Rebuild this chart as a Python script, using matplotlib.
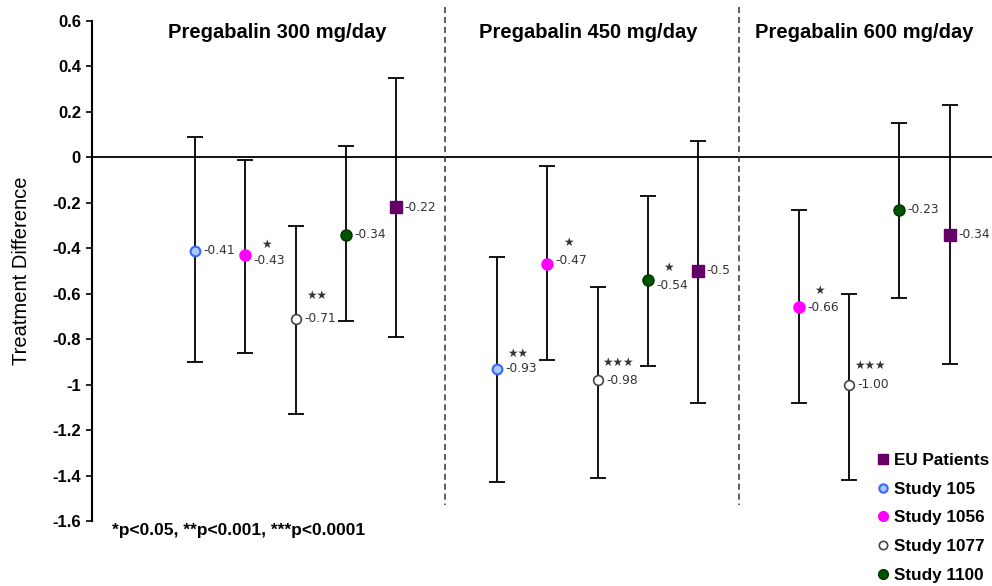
import matplotlib
matplotlib.use("Agg")
import matplotlib.pyplot as plt
from matplotlib.lines import Line2D

plt.rcParams['font.family'] = ['Liberation Sans', 'DejaVu Sans']

# ---- data ----
doses = ["Pregabalin 300 mg/day", "Pregabalin 450 mg/day", "Pregabalin 600 mg/day"]
series = ["EU Patients", "Study 105", "Study 1056", "Study 1077", "Study 1100"]

# per dose group: (study, estimate, lower CI, upper CI, significance stars)
g300_study = ["Study 105", "Study 1056", "Study 1077", "Study 1100", "EU Patients"]
g300_est   = [-0.41, -0.43, -0.71, -0.34, -0.22]
g300_lo    = [-0.90, -0.86, -1.13, -0.72, -0.79]
g300_hi    = [0.09, -0.01, -0.30, 0.05, 0.35]
g300_sig   = ["", "*", "**", "", ""]
g300_lab   = ["-0.41", "-0.43", "-0.71", "-0.34", "-0.22"]

g450_study = ["Study 105", "Study 1056", "Study 1077", "Study 1100", "EU Patients"]
g450_est   = [-0.93, -0.47, -0.98, -0.54, -0.50]
g450_lo    = [-1.43, -0.89, -1.41, -0.92, -1.08]
g450_hi    = [-0.44, -0.04, -0.57, -0.17, 0.07]
g450_sig   = ["**", "*", "***", "*", ""]
g450_lab   = ["-0.93", "-0.47", "-0.98", "-0.54", "-0.5"]

g600_study = ["Study 1056", "Study 1077", "Study 1100", "EU Patients"]
g600_est   = [-0.66, -1.00, -0.23, -0.34]
g600_lo    = [-1.08, -1.42, -0.62, -0.91]
g600_hi    = [-0.23, -0.60, 0.15, 0.23]
g600_sig   = ["*", "***", "", ""]
g600_lab   = ["-0.66", "-1.00", "-0.23", "-0.34"]

yticks = [0.6, 0.4, 0.2, 0, -0.2, -0.4, -0.6, -0.8, -1, -1.2, -1.4, -1.6]
ytick_labels = ["0.6", "0.4", "0.2", "0", "-0.2", "-0.4", "-0.6", "-0.8", "-1", "-1.2", "-1.4", "-1.6"]
footnote = "*p<0.05, **p<0.001, ***p<0.0001"

# ---- styles ----
style = {
    "EU Patients": dict(marker="s", ms=8, mfc="#660066", mec="#660066", mew=1),
    "Study 105":   dict(marker="o", ms=7, mfc="#a8c8ff", mec="#3a66ff", mew=1.5),
    "Study 1056":  dict(marker="o", ms=8, mfc="#ff00ff", mec="#ff00ff", mew=1),
    "Study 1077":  dict(marker="o", ms=7, mfc="white", mec="#444444", mew=1.2),
    "Study 1100":  dict(marker="o", ms=8, mfc="#005500", mec="#003300", mew=1),
}
group_slots = [[0, 1, 2, 3, 4], [6, 7, 8, 9, 10], [12, 13, 14, 15]]
# vertical offsets (points) of value labels, per group
label_dy = [[0, -4, 0, 0, 0], [0, 3, 0, -4, 0], [0, 0, 0, 0]]
star_dy = [[0, 12, 17, 0, 0], [11, 13, 13, 13, 0], [12, 14, 0, 0]]

fig = plt.figure(figsize=(9.92, 5.86), dpi=100)
ax = fig.add_axes([92 / 992, 1 - 521 / 586, 900 / 992, 500 / 586])

groups = [
    (g300_study, g300_est, g300_lo, g300_hi, g300_sig, g300_lab),
    (g450_study, g450_est, g450_lo, g450_hi, g450_sig, g450_lab),
    (g600_study, g600_est, g600_lo, g600_hi, g600_sig, g600_lab),
]

for gi, (studies, est, lo, hi, sig, lab) in enumerate(groups):
    for k, s in enumerate(studies):
        x = group_slots[gi][k]
        ax.errorbar([x], [est[k]], yerr=[[est[k] - lo[k]], [hi[k] - est[k]]],
                    fmt="none", ecolor="black", elinewidth=1.3, capsize=5.5,
                    capthick=1.3, zorder=2)
        ax.plot([x], [est[k]], linestyle="none", zorder=3, **style[s])
        ax.annotate(lab[k], (x, est[k]), xytext=(6, label_dy[gi][k]),
                    textcoords="offset points", ha="left", va="center",
                    fontsize=8.8, color="#333333", family=["DejaVu Sans"])
        if sig[k]:
            ax.annotate("★" * len(sig[k]), (x, est[k]),
                        xytext=(15, label_dy[gi][k] + star_dy[gi][k]),
                        textcoords="offset points", ha="center", va="center",
                        fontsize=8.5, color="#333333", family=["DejaVu Sans"])

# zero line
ax.axhline(0, color="black", linewidth=1.3, zorder=1)

# dashed separators
for xs in [4.97, 10.81]:
    ax.plot([xs, xs], [0.66, -1.53], color="#333333", linewidth=1.1,
            linestyle=(0, (4, 2.5)), clip_on=False, zorder=1)

# group titles
title_x = [1.63, 7.81, 13.31]
for tx, t in zip(title_x, doses):
    ax.text(tx, 0.55, t, ha="center", va="center", fontsize=14.5, fontweight="bold")

ax.set_xlim(-2.05, 15.84)
ax.set_ylim(-1.6, 0.6)
ax.set_yticks(yticks)
ax.set_yticklabels(ytick_labels, fontsize=12, fontweight="bold")
ax.set_xticks([])
for sp in ["top", "right", "bottom"]:
    ax.spines[sp].set_visible(False)
ax.spines["left"].set_linewidth(1.5)
ax.tick_params(axis="y", direction="out", length=4, width=1.2, pad=4)
ax.set_ylabel("Treatment Difference", fontsize=14.5)
ax.yaxis.set_label_coords(-0.068, 0.5)

fig.text(112 / 992, 1 - 531 / 586, footnote, ha="left", va="center",
         fontsize=12.5, fontweight="bold")

handles = [Line2D([], [], linestyle="none", **{**style[s], "ms": style[s]["ms"] - 1}) for s in series]
leg = ax.legend(handles, series, loc="upper left", bbox_to_anchor=(877 / 992, 1 - 453 / 586),
                bbox_transform=fig.transFigure, frameon=False, handlelength=0.7,
                handletextpad=0.3, labelspacing=0.8, borderpad=0, borderaxespad=0,
                prop=dict(size=12.3, weight="bold"))

fig.savefig("out.png", dpi=100)
